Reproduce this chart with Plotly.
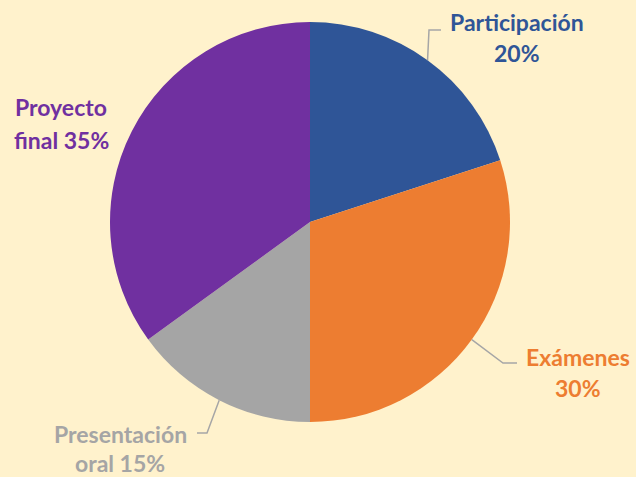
import math
import plotly.graph_objects as go

# ---- data ----
categories = ["Participación", "Exámenes", "Presentación oral", "Proyecto final"]
values = [20, 30, 15, 35]
colors = ["#2F5597", "#ED7D31", "#A5A5A5", "#7030A0"]

W, H = 636, 477
BG = "#FFF2CC"
CX, CY, R = 310, 222, 200  # pie centre / radius in pixels (layout)

# label layout (pixel positions of the label centre, line 1 / line 2, and leader elbows)
label_pos = [
    dict(x=517, y1=22, y2=53, elbow=(429, 30), end=(441, 30)),
    dict(x=578, y1=357, y2=388, elbow=(503, 363), end=(517, 363)),
    dict(x=120, y1=434, y2=463, elbow=(207, 433), end=(197, 433)),
    dict(x=61, y1=107, y2=140, elbow=None, end=None),
]

FONT = "Lato"
FS = 23

def px(x):
    return x / W

def py(y):
    return 1 - y / H

fig = go.Figure()
fig.add_trace(go.Pie(
    labels=categories, values=values,
    marker=dict(colors=colors, line=dict(width=0)),
    sort=False, direction="clockwise", rotation=0,
    textinfo="none", hoverinfo="label+percent", showlegend=False,
    domain=dict(x=[px(CX - R), px(CX + R)], y=[py(CY + R), py(CY - R)]),
))

annotations = []
shapes = []
total = sum(values)
cum = 0
for cat, v, col, lp in zip(categories, values, colors, label_pos):
    mid = (cum + v / 2) / total * 2 * math.pi
    cum += v
    words = cat.split(" ", 1)
    line1 = words[0]
    pct = f"{round(v / total * 100)}%"
    line2 = (words[1] + " " + pct) if len(words) > 1 else pct
    for txt, yy in ((line1, lp["y1"]), (line2, lp["y2"])):
        annotations.append(dict(
            text=f"<b>{txt}</b>", x=px(lp["x"]), y=py(yy), xref="paper", yref="paper",
            xanchor="center", yanchor="middle", showarrow=False,
            font=dict(family=FONT, size=FS, color=col),
        ))
    if lp["elbow"] is not None:
        ex = CX + R * math.sin(mid)
        ey = CY - R * math.cos(mid)
        (bx, by), (tx, ty) = lp["elbow"], lp["end"]
        shapes.append(dict(
            type="path", xref="paper", yref="paper",
            path=f"M {px(ex)} {py(ey)} L {px(bx)} {py(by)} L {px(tx)} {py(ty)}",
            line=dict(color="#A6A6A6", width=1.5),
        ))

fig.update_layout(
    width=W, height=H,
    margin=dict(l=0, r=0, t=0, b=0),
    paper_bgcolor=BG, plot_bgcolor=BG,
    annotations=annotations, shapes=shapes,
)
fig.write_html("out.html")
